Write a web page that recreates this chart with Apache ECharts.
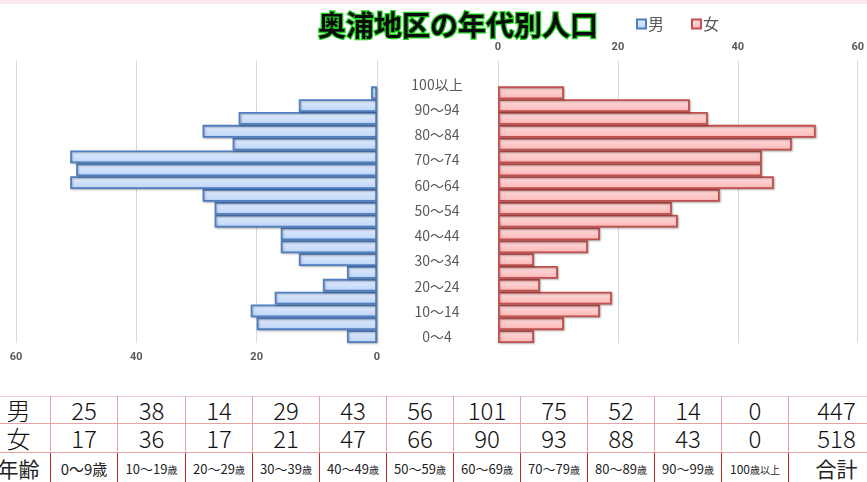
<!DOCTYPE html>
<html>
<head>
<meta charset="utf-8">
<script src="https://cdn.jsdelivr.net/npm/echarts@6/dist/echarts.min.js"></script>
<style>
  html, body { margin: 0; padding: 0; background: #fff; overflow: hidden; }
  #wrap { position: relative; width: 867px; height: 482px; overflow: hidden; }
  #topband { position: absolute; left: 0; top: 0; width: 867px; height: 4px; background: #fde9f1; }
  #chart { position: absolute; left: 0; top: 0; width: 867px; height: 395px; }
  #tbl { position: absolute; left: -14px; top: 396px; width: 897px; border-collapse: collapse; table-layout: fixed;
         font-family: "Noto Sans CJK JP", "Noto Sans", sans-serif; color: #111; }
  #tbl td { border: 1px solid #e6a3a3; text-align: center; padding: 0; white-space: nowrap; overflow: hidden; }
  #tbl tr.num td { font-size: 24px; line-height: 26px; font-weight: 300; }
  #tbl tr.r1 td { height: 26px; border-top-color: #f4c9d6; }
  #tbl tr.r2 td { height: 28px; }
  #tbl tr.age td { height: 30px; font-size: 13px; color: #222; border-left-color: #c62828; border-right-color: #c62828; }
  #tbl tr.age td small { font-size: 10px; }
  #tbl td.head { font-size: 22px; }
  #tbl tr.age td.head, #tbl tr.age td.sum { font-size: 21px; }
</style>
</head>
<body>
<div id="wrap">
  <div id="chart"></div>
  <div id="topband"></div>
  <table id="tbl"></table>
</div>
<script>
// 5歳階級（下から上へ）
var ageGroups = ['0～4','5～9','10～14','15～19','20～24','25～29','30～34','35～39','40～44','45～49',
                 '50～54','55～59','60～64','65～69','70～74','75～79','80～84','85～89','90～94','95～99','100以上'];
var maleCounts   = [5, 20, 21, 17, 9, 5, 13, 16, 16, 27, 27, 29, 51, 50, 51, 24, 29, 23, 13, 1, 0];
var femaleCounts = [6, 11, 17, 19, 7, 10, 6, 15, 17, 30, 29, 37, 46, 44, 44, 49, 53, 35, 32, 11, 0];

// 表の列見出し
var decadeLabels = ['0～9', '10～19', '20～29', '30～39', '40～49', '50～59', '60～69', '70～79', '80～89', '90～99', '100'];
var axisTicks = [0, 20, 40, 60];

function decadeSums(arr){
	var out = [];
	for (var i = 0; i < 10; i++) out.push(arr[2 * i] + arr[2 * i + 1]);
	out.push(arr[20]);
	return out;
}
function total(arr){
	return arr.reduce(function(a, b){ return a + b; }, 0);
}

var maleDec = decadeSums(maleCounts);
var femaleDec = decadeSums(femaleCounts);

// ---- table ----
var tbl = document.getElementById('tbl');
var colW = [64, 67, 68, 67, 67, 67, 67, 67, 67, 67, 67, 67, 96];
var html = '<colgroup>' + colW.map(function(w){ return '<col style="width:' + w + 'px">'; }).join('') + '</colgroup>';
html += '<tr class="num r1"><td class="head">男</td>' + maleDec.map(function(v){ return '<td>' + v + '</td>'; }).join('') +
        '<td>' + total(maleCounts) + '</td></tr>';
html += '<tr class="num r2"><td class="head">女</td>' + femaleDec.map(function(v){ return '<td>' + v + '</td>'; }).join('') +
        '<td>' + total(femaleCounts) + '</td></tr>';
html += '<tr class="age"><td class="head">年齢</td>' + decadeLabels.map(function(l, i){
	if (i === 0) return '<td style="font-size:15px">' + l + '歳</td>';
	if (i === 10) return '<td style="font-size:12px">' + l + '<small>歳以上</small></td>';
	return '<td>' + l + '<small>歳</small></td>';
}).join('') + '<td class="sum">合計</td></tr>';
tbl.innerHTML = html;

// ---- chart ----
var myChart = echarts.init(document.getElementById('chart'));

var labelStyle = { color: '#595959', fontSize: 11, fontWeight: 'bold', fontFamily: 'Roboto, sans-serif' };
var splitStyle = { show: true, lineStyle: { color: '#d9d9d9', width: 1 } };

var blueFill = new echarts.graphic.LinearGradient(0, 0, 0, 1, [
	{ offset: 0, color: '#e4eeff' }, { offset: 1, color: '#bcd3f8' }]);
var redFill = new echarts.graphic.LinearGradient(0, 0, 0, 1, [
	{ offset: 0, color: '#ffe0e0' }, { offset: 1, color: '#ffb5b5' }]);

var option = {
	animation: false,
	title: {
		text: '奥浦地区の年代別人口',
		left: 313,
		top: 6,
		textStyle: {
			color: '#0b0b0b',
			fontSize: 28,
			fontWeight: 'bold',
			fontFamily: '"Noto Sans CJK JP", sans-serif',
			textBorderColor: '#22d022',
			textBorderWidth: 2.5
		}
	},
	legend: {
		data: ['男', '女'],
		left: 636,
		top: 16,
		padding: 0,
		itemWidth: 9,
		itemHeight: 9,
		itemGap: 27,
		icon: 'rect',
		textStyle: { color: '#595959', fontSize: 16, fontFamily: '"Noto Sans CJK JP", sans-serif', padding: [0, 0, 0, -3] }
	},
	grid: [
		{ left: 16, top: 60.7, width: 361, height: 282.3 },
		{ left: 498, top: 60.7, width: 361, height: 282.3 },
		{ left: 437, top: 78, width: 1, height: 265 }
	],
	xAxis: [
		{
			gridIndex: 0, type: 'value', inverse: true, position: 'bottom',
			min: axisTicks[0], max: axisTicks[3], interval: 20,
			axisLine: { show: false }, axisTick: { show: false },
			axisLabel: Object.assign({ margin: 9 }, labelStyle),
			splitLine: splitStyle
		},
		{
			gridIndex: 1, type: 'value', position: 'top',
			min: axisTicks[0], max: axisTicks[3], interval: 20,
			axisLine: { show: false }, axisTick: { show: false },
			axisLabel: Object.assign({ margin: 8 }, labelStyle),
			splitLine: splitStyle
		},
		{ gridIndex: 2, type: 'value', show: false }
	],
	yAxis: [
		{ gridIndex: 0, type: 'category', data: ageGroups, max: 21, show: false },
		{ gridIndex: 1, type: 'category', data: ageGroups, max: 21, show: false },
		{
			gridIndex: 2, type: 'category', data: ageGroups,
			axisLine: { show: false }, axisTick: { show: false },
			axisLabel: {
				interval: 1, margin: 0, align: 'center',
				color: '#595959', fontSize: 14, fontFamily: '"Noto Sans CJK JP", sans-serif'
			}
		}
	],
	series: [
		{
			name: '男', type: 'bar', xAxisIndex: 0, yAxisIndex: 0,
			barCategoryGap: '0%',
			data: maleCounts.map(function(v){ return v === 0 ? null : v; }),
			itemStyle: {
				color: blueFill, borderColor: '#4f7fc0', borderWidth: 1.8,
				shadowColor: 'rgba(0,0,0,0.25)', shadowBlur: 2, shadowOffsetX: 1, shadowOffsetY: 1
			}
		},
		{
			name: '女', type: 'bar', xAxisIndex: 1, yAxisIndex: 1,
			barCategoryGap: '0%',
			data: femaleCounts.map(function(v){ return v === 0 ? null : v; }),
			itemStyle: {
				color: redFill, borderColor: '#c0504d', borderWidth: 1.8,
				shadowColor: 'rgba(0,0,0,0.25)', shadowBlur: 2, shadowOffsetX: 1, shadowOffsetY: 1
			}
		},
		{ type: 'bar', xAxisIndex: 2, yAxisIndex: 2, data: [], silent: true }
	]
};

myChart.setOption(option);
</script>
</body>
</html>
